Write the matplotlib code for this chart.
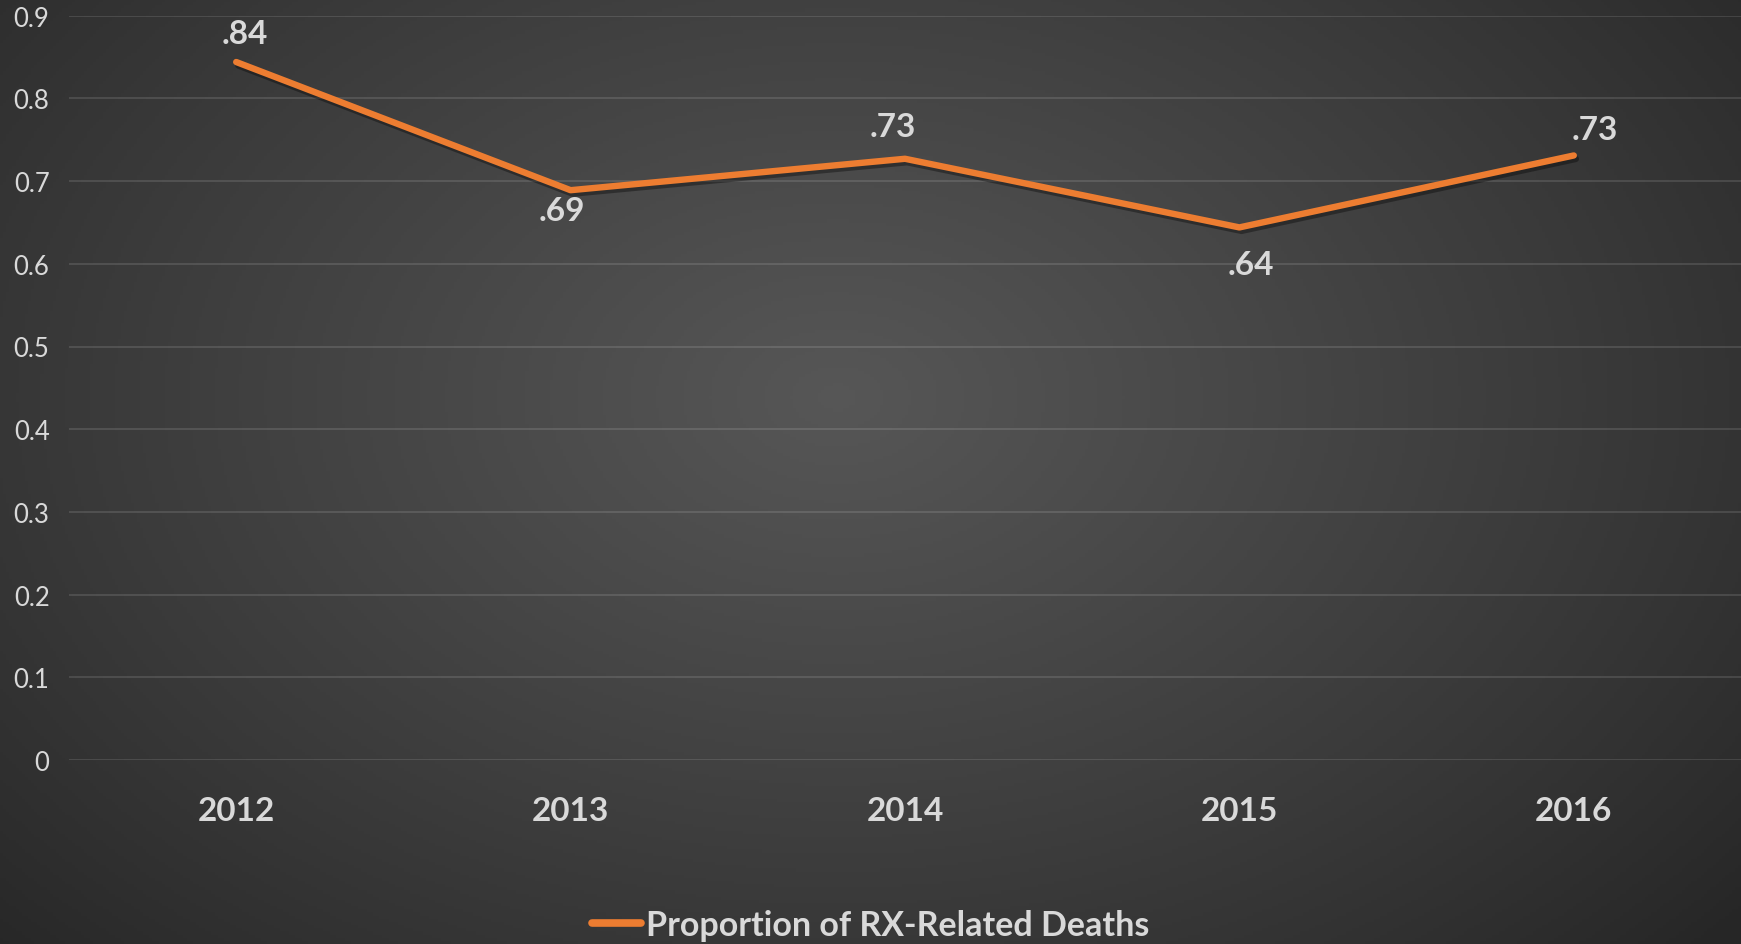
import numpy as np
import matplotlib.pyplot as plt
import matplotlib.patheffects as pe

years = ["2012", "2013", "2014", "2015", "2016"]
rx_share = [0.844, 0.689, 0.727, 0.644, 0.731]
y_ticks = [0, 0.1, 0.2, 0.3, 0.4, 0.5, 0.6, 0.7, 0.8, 0.9]
series_name = "Proportion of RX-Related Deaths"

# label offsets in pixels (dx, dy) relative to each point
label_offsets = [(9, 29), (-9, -20), (-12, 32), (11, -37), (21, 26)]

ORANGE = "#ED7D31"
TEXT = "#D9D9D9"

plt.rcParams['font.family'] = ['Lato', 'DejaVu Sans']

fig = plt.figure(figsize=(17.41, 9.45), dpi=100)

# radial dark background, lighter toward the middle
bg = fig.add_axes([0, 0, 1, 1], zorder=-10)
h, w = 300, 560
yy, xx = np.mgrid[0:h, 0:w]
cx, cy = 0.48 * w, 0.42 * h
r = np.sqrt(((xx - cx) / (0.68 * w)) ** 2 + ((yy - cy) / (0.85 * h)) ** 2)
v = np.clip(1 - r, 0, 1) ** 0.9
dark, light = 0.15, 0.34
img = dark + (light - dark) * v
bg.imshow(np.dstack([img, img, img]), aspect='auto', extent=[0, 1, 0, 1], origin='upper')
bg.set_axis_off()

ax = fig.add_axes([69 / 1741, 1 - 761 / 945, 1 - 69 / 1741, (761 - 16.7) / 945])
ax.patch.set_alpha(0)
x = np.arange(len(years))

ax.plot(x, rx_share, color=ORANGE, lw=4.6, solid_capstyle='round', solid_joinstyle='round',
        label=series_name, zorder=3,
        path_effects=[pe.SimpleLineShadow(offset=(1.5, -2.5), shadow_color='black', alpha=0.35),
                      pe.Normal()])

for i, val in enumerate(rx_share):
    dx, dy = label_offsets[i]
    ax.annotate(f"{val:.2f}".lstrip("0"), (x[i], val), xytext=(dx, dy),
                textcoords='offset pixels', ha='center', va='center',
                fontsize=24, fontweight='bold', color=TEXT)

ax.set_xlim(-0.5, 4.5)
ax.set_ylim(0, 0.9)
ax.set_yticks(y_ticks)
ax.set_yticklabels([f"{t:g}" for t in y_ticks])
ax.set_xticks(x)
ax.set_xticklabels(years, fontweight='bold', fontsize=24)
ax.tick_params(axis='y', length=0, pad=14, labelsize=18.5, labelcolor=TEXT)
ax.tick_params(axis='x', length=0, pad=26, labelcolor=TEXT)
ax.grid(axis='y', color='white', alpha=0.13, lw=1.3)
ax.set_axisbelow(True)
for s in ax.spines.values():
    s.set_visible(False)

leg = ax.legend(loc='center', bbox_to_anchor=(0.5, 1 - 926 / 945), bbox_transform=fig.transFigure,
                frameon=False, fontsize=24.5, handlelength=1.45, handletextpad=0.12)
for t in leg.get_texts():
    t.set_color(TEXT)
    t.set_fontweight('bold')
for ln in leg.get_lines():
    ln.set_path_effects([])
    ln.set_linewidth(5.5)

fig.savefig("out.png", dpi=100)
